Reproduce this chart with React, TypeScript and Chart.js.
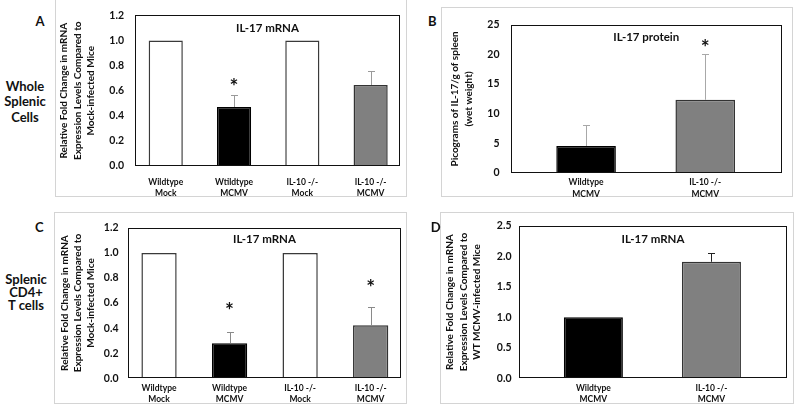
import React, { useEffect, useRef } from 'react';
import { Chart, registerables } from 'chart.js';

Chart.register(...registerables);
Chart.defaults.font.family = 'Lato';
Chart.defaults.color = '#111';

// ---------- data ----------
const categoriesA = [['Wildtype', 'Mock'], ['Wtildtype', 'MCMV'], ['IL-10 -/-', 'Mock'], ['IL-10 -/-', 'MCMV']];
const valuesA = [1.0, 0.47, 1.0, 0.645];
const errorsA = [0, 0.094, 0, 0.11];
const starsA = [null, 0.67, null, null];

const categoriesB = [['Wildtype', 'MCMV'], ['IL-10 -/-', 'MCMV']];
const valuesB = [4.55, 12.35];
const errorsB = [3.5, 7.7];
const starsB = [null, 21.9];

const categoriesC = [['Wildtype', 'Mock'], ['Wildtype', 'MCMV'], ['IL-10 -/-', 'Mock'], ['IL-10 -/-', 'MCMV']];
const valuesC = [1.0, 0.28, 1.0, 0.423];
const errorsC = [0, 0.089, 0, 0.143];
const starsC = [null, 0.576, null, 0.756];

const categoriesD = [['Wildtype', 'MCMV'], ['IL-10 -/-', 'MCMV']];
const valuesD = [1.0, 1.91];
const errorsD = [0, 0.147];
const starsD = [null, null];

const fillsFour = ['#ffffff', '#000000', '#ffffff', '#808080'];
const edgesFour = ['#3a3a3a', '#000000', '#3a3a3a', '#333333'];
const fillsTwo = ['#000000', '#808080'];
const edgesTwo = ['#000000', '#333333'];

const yTitleMock = ['Relative Fold Change in mRNA', 'Expression Levels Compared to', 'Mock-infected Mice'];
const yTitleProtein = ['Picograms of IL-17/g of spleen', '(wet weight)'];
const yTitleWT = ['Relative Fold Change in mRNA', 'Expression Levels Compared to', 'WT MCMV-infected Mice'];

type Spec = {
  frame: number[];
  area: number[];
  labels: string[][];
  values: number[];
  errors: number[];
  stars: (number | null)[];
  fills: string[];
  edges: string[];
  yMax: number;
  yStep: number;
  decimals: number;
  title: string;
  titleDy: number;
  yTitle: string[];
  yTitlePad: number;
  yTickPad: number;
  xTickPad: number;
  xMin: number;
  xMax: number;
  errColor: string;
};

const panels: Spec[] = [
  {
    frame: [55, -2, 407, 197], area: [135, 13.5, 400, 166],
    labels: categoriesA, values: valuesA, errors: errorsA, stars: starsA,
    fills: fillsFour, edges: edgesFour, yMax: 1.2, yStep: 0.2, decimals: 1,
    title: 'IL-17 mRNA', titleDy: 12.5, yTitle: yTitleMock, yTitlePad: 2.4,
    yTickPad: 11, xTickPad: 10.5, xMin: -0.45, xMax: 3.43, errColor: '#9a9a9a',
  },
  {
    frame: [441, 7, 793, 197], area: [511, 14, 781.5, 173],
    labels: categoriesB, values: valuesB, errors: errorsB, stars: starsB,
    fills: fillsTwo, edges: edgesTwo, yMax: 25, yStep: 5, decimals: 0,
    title: 'IL-17 protein', titleDy: 12, yTitle: yTitleProtein, yTitlePad: 7.5,
    yTickPad: 11.5, xTickPad: 4.2, xMin: -0.63, xMax: 1.64, errColor: '#a8a8a8',
  },
  {
    frame: [54, 212, 407, 404], area: [128, 221, 401, 378.3],
    labels: categoriesC, values: valuesC, errors: errorsC, stars: starsC,
    fills: fillsFour, edges: edgesFour, yMax: 1.2, yStep: 0.2, decimals: 1,
    title: 'IL-17 mRNA', titleDy: 11, yTitle: yTitleMock, yTitlePad: 4,
    yTickPad: 9.5, xTickPad: 4, xMin: -0.44, xMax: 3.43, errColor: '#8a8a8a',
  },
  {
    frame: [440, 212, 794, 404], area: [519, 219, 787, 378.3],
    labels: categoriesD, values: valuesD, errors: errorsD, stars: starsD,
    fills: fillsTwo, edges: edgesTwo, yMax: 2.5, yStep: 0.5, decimals: 1,
    title: 'IL-17 mRNA', titleDy: 13.3, yTitle: yTitleWT, yTitlePad: 3.4,
    yTickPad: 7.5, xTickPad: 4.5, xMin: -0.63, xMax: 1.64, errColor: '#222222',
  },
];

function Panel({ spec }: { spec: Spec }) {
  const ref = useRef<HTMLCanvasElement>(null);
  const [fl, ft, fr, fb] = spec.frame;
  const [al, at, ar, ab] = spec.area;

  useEffect(() => {
    const overlay = {
      id: 'overlay',
      afterDatasetsDraw(chart: any) {
        const ctx = chart.ctx;
        const meta = chart.getDatasetMeta(0);
        const ys = chart.scales.y;
        const ca = chart.chartArea;
        ctx.save();
        // error bars
        ctx.strokeStyle = spec.errColor;
        ctx.lineWidth = 1;
        spec.values.forEach((v, i) => {
          const e = spec.errors[i];
          if (!e) return;
          const x = Math.round(meta.data[i].x) + 0.5;
          const y0 = ys.getPixelForValue(v);
          const y1 = Math.round(ys.getPixelForValue(v + e)) + 0.5;
          ctx.beginPath();
          ctx.moveTo(x, y0);
          ctx.lineTo(x, y1);
          ctx.moveTo(x - 3.5, y1);
          ctx.lineTo(x + 3.5, y1);
          ctx.stroke();
        });
        // significance stars
        ctx.fillStyle = '#111';
        ctx.font = 'bold 21px Lato';
        ctx.textAlign = 'center';
        ctx.textBaseline = 'alphabetic';
        const m = ctx.measureText('*');
        const dy = (m.actualBoundingBoxAscent - m.actualBoundingBoxDescent) / 2;
        spec.stars.forEach((s, i) => {
          if (s == null) return;
          ctx.fillText('*', meta.data[i].x, ys.getPixelForValue(s) + dy);
        });
        // in-plot title
        ctx.font = 'bold 11.5px Lato';
        ctx.textBaseline = 'middle';
        ctx.fillText(spec.title, (ca.left + ca.right) / 2, ca.top + spec.titleDy);
        // plot-area box
        ctx.strokeStyle = '#111';
        ctx.lineWidth = 1;
        const l = Math.round(ca.left) + 0.5;
        const t = Math.round(ca.top) + 0.5;
        const r = Math.round(ca.right) - 0.5;
        const b = Math.round(ca.bottom) - 0.5;
        ctx.strokeRect(l, t, r - l, b - t);
        ctx.restore();
      },
    };

    const chart = new Chart(ref.current as HTMLCanvasElement, {
      type: 'bar',
      data: {
        datasets: [
          {
            data: spec.values.map((v, i) => ({ x: i, y: v })),
            backgroundColor: spec.fills,
            borderColor: spec.edges,
            borderWidth: 1.5,
            categoryPercentage: 0.5,
            barPercentage: 1,
          } as any,
        ],
      },
      options: {
        responsive: false,
        animation: false,
        devicePixelRatio: 1,
        layout: { padding: { left: 0, top: at - ft, right: fr - ar, bottom: 0 } },
        plugins: { legend: { display: false }, tooltip: { enabled: false }, title: { display: false } },
        scales: {
          x: {
            type: 'linear',
            offset: false,
            bounds: 'data',
            min: spec.xMin,
            max: spec.xMax,
            grid: { display: false, drawTicks: false, offset: false },
            border: { display: false },
            afterBuildTicks: (s: any) => {
              s.ticks = spec.labels.map((_, i) => ({ value: i }));
            },
            afterFit: (s: any) => {
              s.height = fb - ab;
            },
            ticks: {
              padding: spec.xTickPad,
              maxRotation: 0,
              autoSkip: false,
              color: '#111',
              font: { size: 8.5, weight: 'bold', lineHeight: 1.3 },
              callback: (v: any) => spec.labels[v] ?? '',
            },
          },
          y: {
            min: 0,
            max: spec.yMax,
            grid: { display: false, drawTicks: false },
            border: { display: false },
            afterFit: (s: any) => {
              s.width = al - fl;
            },
            ticks: {
              stepSize: spec.yStep,
              padding: spec.yTickPad,
              color: '#111',
              font: { size: 10.5, weight: 'bold' },
              callback: (v: any) => Number(v).toFixed(spec.decimals),
            },
            title: {
              display: true,
              text: spec.yTitle,
              color: '#111',
              font: { size: 10, weight: 'bold', lineHeight: 1.33 },
              padding: { top: spec.yTitlePad, bottom: 0 },
            },
          },
        },
      } as any,
      plugins: [overlay],
    });
    return () => chart.destroy();
  }, []);

  return (
    <>
      <div
        style={{
          position: 'absolute', left: fl, top: ft, width: fr - fl, height: fb - ft,
          border: '1px solid #d4d4d4', boxSizing: 'border-box',
        }}
      />
      <canvas ref={ref} width={fr - fl} height={fb - ft} style={{ position: 'absolute', left: fl, top: ft }} />
    </>
  );
}

function Label({ x, y, text, size, lh }: { x: number; y: number; text: string; size: number; lh: number }) {
  return (
    <div
      style={{
        position: 'absolute', left: x, top: y, transform: 'translate(-50%, -50%)',
        fontFamily: 'Lato', fontWeight: 700, fontSize: size, lineHeight: `${lh}px`,
        textAlign: 'center', whiteSpace: 'pre', color: '#111',
      }}
    >
      {text}
    </div>
  );
}

export default function App() {
  return (
    <div style={{ position: 'fixed', left: 0, top: 0, width: 800, height: 411, background: '#fff', overflow: 'hidden' }}>
      {panels.map((p, i) => (
        <Panel key={i} spec={p} />
      ))}
      <Label x={40} y={20.7} text="A" size={13} lh={15} />
      <Label x={432.3} y={20.7} text="B" size={13} lh={15} />
      <Label x={39.3} y={227.3} text="C" size={13} lh={15} />
      <Label x={435.7} y={227.3} text="D" size={13} lh={15} />
      <Label x={25} y={102} text={'Whole\nSplenic\nCells'} size={13} lh={15.3} />
      <Label x={26} y={292} text={'Splenic\nCD4+\nT cells'} size={13} lh={13} />
    </div>
  );
}
